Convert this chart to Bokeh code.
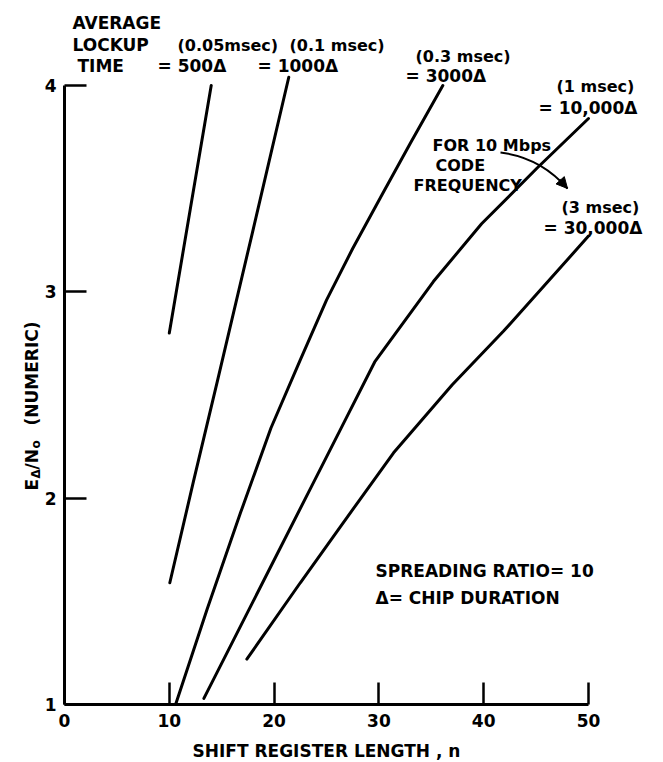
import numpy as np
from bokeh.plotting import figure
from bokeh.models import Label, Range1d, FixedTicker, Arrow, NormalHead
from bokeh.embed import file_html
from bokeh.resources import INLINE

# ---------------- data ----------------
x_ticks = [0, 10, 20, 30, 40, 50]
y_ticks = [1, 2, 3, 4]

# average lockup time = 500 chips (0.05 msec)
n_500 = [10.0, 12.0, 14.0]
e_500 = [2.80, 3.40, 4.00]

# 1000 chips (0.1 msec)
n_1000 = [10.05, 12.3, 14.6, 17.9, 21.4]
e_1000 = [1.59, 2.08, 2.57, 3.28, 4.04]

# 3000 chips (0.3 msec)
n_3000 = [10.6, 13.6, 16.8, 19.7, 22.5, 25.0, 27.5, 30.4, 33.0, 36.1]
e_3000 = [1.00, 1.46, 1.93, 2.34, 2.67, 2.96, 3.21, 3.48, 3.72, 4.00]

# 10,000 chips (1 msec)
n_10000 = [13.3, 16.8, 20.5, 23.5, 26.3, 29.6, 35.2, 39.8, 45.1, 50.0]
e_10000 = [1.03, 1.38, 1.75, 2.05, 2.33, 2.66, 3.05, 3.33, 3.60, 3.84]

# 30,000 chips (3 msec)
n_30000 = [17.4, 22.5, 26.3, 31.4, 37.0, 41.9, 50.0]
e_30000 = [1.22, 1.59, 1.86, 2.22, 2.55, 2.81, 3.27]

series = [(n_500, e_500), (n_1000, e_1000), (n_3000, e_3000),
          (n_10000, e_10000), (n_30000, e_30000)]

# ---------------- layout ----------------
W, H = 663, 762
# pixel position of the axes box inside the page
L, R, T, B = 64, 75, 85, 58
X0, X1, Y0, Y1 = 0, 50, 1, 4
FW, FH = W - L - R, H - T - B
FONT = "DejaVu Sans"


def px(xp, yp):
    """screen pixel (from top-left of page) -> data coordinates"""
    return (X0 + (xp - L) / FW * (X1 - X0), Y0 + (T + FH - yp) / FH * (Y1 - Y0))


# the frame covers the whole page, the axes are pinned at x=0 / y=1
xl, yt = px(0, 0)
xr, yb = px(W, H)

p = figure(width=W, height=H, x_range=Range1d(xl, xr), y_range=Range1d(yb, yt),
           output_backend="svg", toolbar_location=None, min_border=0)
p.outline_line_color = None
p.xgrid.grid_line_color = None
p.ygrid.grid_line_color = None
p.background_fill_color = "white"
p.border_fill_color = "white"

for ax in (p.xaxis[0], p.yaxis[0]):
    ax.axis_line_width = 3
    ax.axis_line_color = "black"
    ax.major_tick_line_width = 2.5
    ax.major_tick_line_color = "black"
    ax.major_tick_in = 22
    ax.major_tick_out = 0
    ax.minor_tick_line_color = None
    ax.major_label_text_font = FONT
    ax.major_label_text_font_style = "bold"
    ax.major_label_text_font_size = "17px"
    ax.major_label_text_color = "black"

p.xaxis.fixed_location = Y0
p.yaxis.fixed_location = X0
p.xaxis.bounds = (X0, X1)
p.yaxis.bounds = (Y0, Y1)
p.xaxis.ticker = FixedTicker(ticks=x_ticks)
p.yaxis.ticker = FixedTicker(ticks=y_ticks)
p.xaxis.major_label_standoff = 9
p.yaxis.major_label_standoff = 8
p.xaxis.axis_label = "SHIFT REGISTER LENGTH , n"
p.xaxis.axis_label_text_font = FONT
p.xaxis.axis_label_text_font_style = "bold"
p.xaxis.axis_label_text_font_size = "17px"
p.xaxis.axis_label_text_color = "black"
p.xaxis.axis_label_standoff = 11

for xs, ys in series:
    p.line(xs, ys, line_width=3, line_color="black", line_cap="round")


def lab(text, xp, yp, size="17px", angle=0.0, align="left"):
    x, y = px(xp, yp)
    p.add_layout(Label(x=x, y=y, text=text, text_font=FONT,
                       text_font_style="bold", text_font_size=size,
                       text_color="black", text_align=align,
                       text_baseline="alphabetic", angle=angle))


# curve annotations
lab("AVERAGE", 72, 22)
lab("LOCKUP", 72, 44)
lab("(0.05msec)", 177, 45, size="16px")
lab("(0.1 msec)", 289, 45, size="16px")
lab("TIME", 77, 65)
lab("= 500Δ", 157, 65)
lab("= 1000Δ", 257, 65)
lab("(0.3 msec)", 415, 56, size="16px")
lab("= 3000Δ", 405, 75)
lab("(1 msec)", 556, 86, size="16px")
lab("= 10,000Δ", 538, 107)
lab("FOR 10 Mbps", 432, 145, size="16px")
lab("CODE", 435, 165, size="16px")
lab("FREQUENCY", 413, 185, size="16px")
lab("(3 msec)", 561, 207, size="16px")
lab("= 30,000Δ", 543, 227)
lab("SPREADING RATIO= 10", 375, 570)
lab("Δ= CHIP  DURATION", 375, 597)

# y-axis title (rotated), E_Δ / N_o (NUMERIC)
rot = np.pi / 2
lab("E", 31, 490, angle=rot)
lab("Δ", 35, 478, size="12px", angle=rot)
lab("/N", 31, 469, angle=rot)
lab("o", 35, 448, size="12px", angle=rot)
lab("(NUMERIC)", 31, 425, angle=rot)

# curved arrow "FOR 10 Mbps ..." -> (3 msec) curve
sx, sy = px(500, 152)
cx, cy = px(540, 157)
ex, ey = px(567, 188)
p.quadratic(x0=[sx], y0=[sy], x1=[ex], y1=[ey], cx=[cx], cy=[cy],
            line_width=2, line_color="black")
hx, hy = px(559, 179)
p.add_layout(Arrow(x_start=hx, y_start=hy, x_end=ex, y_end=ey,
                   line_width=2, line_color="black",
                   end=NormalHead(size=11, fill_color="black",
                                  line_color="black")))

open("out.html", "w").write(file_html(p, INLINE))
